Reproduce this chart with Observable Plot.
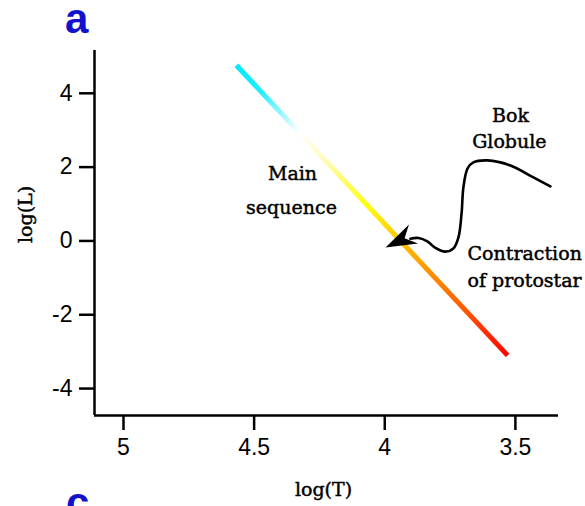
<!DOCTYPE html>
<html><head><meta charset="utf-8">
<script src="https://cdn.jsdelivr.net/npm/d3@7"></script>
<script src="https://cdn.jsdelivr.net/npm/@observablehq/plot@0.6"></script>
<style>
html,body{margin:0;padding:0;background:#fff;overflow:hidden;}
#wrap{position:relative;width:585px;height:506px;overflow:hidden;}
.panel{position:absolute;font-family:"Liberation Sans",Arial,sans-serif;font-weight:bold;color:#1212cc;font-size:42px;line-height:37px;}
#chart{position:absolute;left:0;top:0;}
</style></head><body>
<div id="wrap"><div id="chart"></div><div class="panel" style="left:65px;top:0px">a</div><div class="panel" style="left:66px;top:484px">c</div></div>
<script>
// Axis ticks and domains (log T reversed)
const xTicks = [5, 4.5, 4, 3.5];
const yTicks = [4, 2, 0, -2, -4];
const xDomain = [5.111, 3.335];
const yDomain = [-4.73, 5.16];

// Main sequence end points
const mainSeqLogT = [4.568, 3.530];
const mainSeqLogL = [4.76, -3.10];

// Protostar contraction track (Bok globule -> main sequence)
const trackLogT = [3.366, 3.431, 3.519, 3.607, 3.661, 3.683, 3.699, 3.706, 3.718, 3.737, 3.768, 3.806, 3.837, 3.871, 3.902];
const trackLogL = [1.477, 1.721, 2.046, 2.182, 2.127, 1.965, 1.450, 0.745, 0.095, -0.203, -0.290, -0.190, -0.010, 0.080, 0.060];
const arrowTipLogT = [3.997];
const arrowTipLogL = [-0.176];

// Annotations
const centerLabels = ["Main", "sequence", "Bok", "Globule"];
const centerLabelLogT = [4.353, 4.357, 3.519, 3.523];
const centerLabelLogL = [1.829, 0.908, 3.401, 2.696];
const startLabels = ["Contraction", "of protostar"];
const startLabelLogT = [3.683, 3.683];
const startLabelLogL = [-0.339, -1.070];

const mainSeq = mainSeqLogT.map((t, i) => ({logT: t, logL: mainSeqLogL[i]}));
const track = trackLogT.map((t, i) => ({logT: t, logL: trackLogL[i]}));
const tip = arrowTipLogT.map((t, i) => ({logT: t, logL: arrowTipLogL[i]}));
const cLab = centerLabels.map((s, i) => ({text: s, logT: centerLabelLogT[i], logL: centerLabelLogL[i]}));
const sLab = startLabels.map((s, i) => ({text: s, logT: startLabelLogT[i], logL: startLabelLogL[i]}));

const serif = "'DejaVu Serif', 'Liberation Serif', serif";
const sans = "'Liberation Sans', Arial, sans-serif";
const serifStyle = {fontFamily: serif, fontSize: 19, fill: "#000", stroke: "#000", strokeWidth: 0.45};

// filled arrowhead symbol, tip at origin
const arrowHead = {
  draw(ctx) {
    const th = 154.5 * Math.PI / 180, L = 31, W = 21, N = 0.68 * L;
    const pts = [[0, 0], [-L, -W / 2], [-N, 0], [-L, W / 2]];
    const c = Math.cos(th), s = Math.sin(th);
    pts.forEach(([x, y], i) => {
      const X = x * c - y * s, Y = x * s + y * c;
      if (i === 0) ctx.moveTo(X, Y); else ctx.lineTo(X, Y);
    });
    ctx.closePath();
  }
};

const defs = () => {
  const d = d3.create("svg:defs");
  const g = d.append("linearGradient").attr("id", "msGrad")
    .attr("x1", 0).attr("y1", 0).attr("x2", 1).attr("y2", 1);
  [[0, "#00eaff"], [0.09, "#22edff"], [0.23, "#ffffff"], [0.32, "#fffbc0"], [0.48, "#ffff10"], [0.57, "#ffd400"], [0.68, "#ffa000"], [0.84, "#ff5a00"], [1, "#ff0000"]]
    .forEach(([o, c]) => g.append("stop").attr("offset", o).attr("stop-color", c));
  return d.node();
};

const chart = Plot.plot({
  width: 585,
  height: 506,
  marginLeft: 94,
  marginRight: 27,
  marginTop: 50,
  marginBottom: 91,
  style: {background: "#fff", color: "#000", fontFamily: sans},
  x: {domain: xDomain},
  y: {domain: yDomain},
  marks: [
    defs,
    Plot.axisX({ticks: xTicks, tickSize: 15, tickPadding: 8, fontSize: 23, strokeWidth: 2.5, label: null, tickFormat: d => String(d), fill: "#000"}),
    Plot.axisY({ticks: yTicks, tickSize: 15, tickPadding: 7, fontSize: 23, strokeWidth: 2.5, label: null, tickFormat: d => String(d), fill: "#000"}),
    Plot.ruleX([xDomain[0]], {stroke: "#000", strokeWidth: 2.5}),
    Plot.ruleY([yDomain[0]], {stroke: "#000", strokeWidth: 2.5}),
    Plot.text(["log(T)"], {frameAnchor: "bottom", dx: -3, dy: 80, ...serifStyle}),
    Plot.text(["log(L)"], {frameAnchor: "left", dx: -69, dy: 10, rotate: -90, ...serifStyle}),
    Plot.line(mainSeq, {x: "logT", y: "logL", stroke: "url(#msGrad)", strokeWidth: 5, strokeLinecap: "butt"}),
    Plot.line(track, {x: "logT", y: "logL", curve: "catmull-rom", stroke: "#000", strokeWidth: 2.6}),
    Plot.dot(tip, {x: "logT", y: "logL", symbol: arrowHead, fill: "#000", stroke: "none"}),
    Plot.text(cLab, {x: "logT", y: "logL", text: "text", ...serifStyle}),
    Plot.text(sLab, {x: "logT", y: "logL", text: "text", textAnchor: "start", ...serifStyle})
  ]
});
document.getElementById("chart").appendChild(chart);
</script>
</body></html>
